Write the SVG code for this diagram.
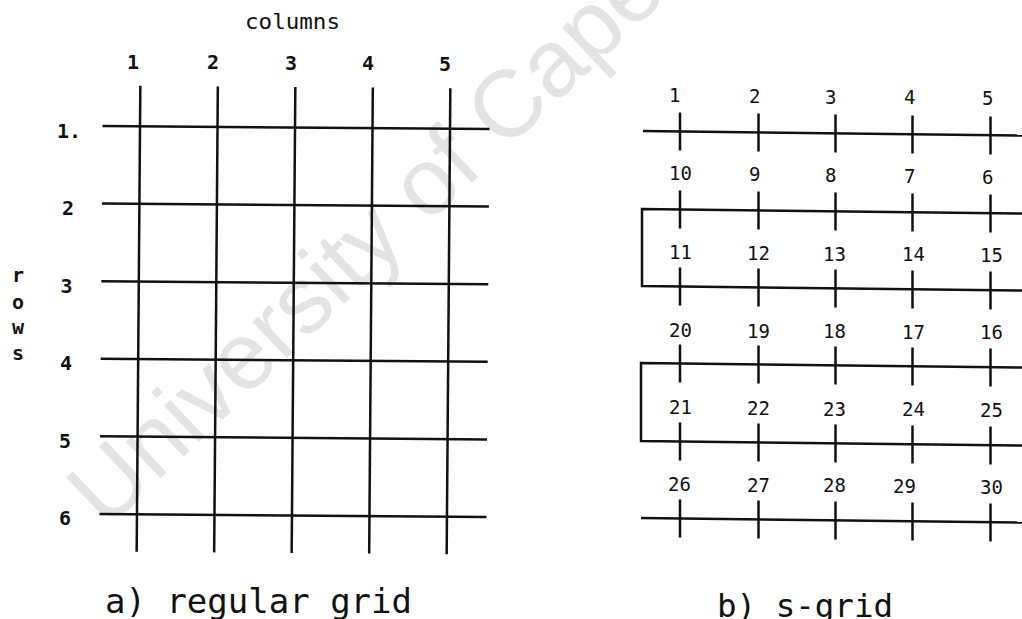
<svg xmlns="http://www.w3.org/2000/svg" width="1022" height="619" viewBox="0 0 1022 619">
<style>
.ln{stroke:#111;stroke-width:2.5;fill:none;stroke-linecap:butt}
.lbl{font-family:"DejaVu Sans Mono","Liberation Mono",monospace;fill:#111}
.d20{font-size:20px;font-weight:bold}
.d19{font-size:19px}
.mid{text-anchor:middle}
.wm{font-family:"Liberation Sans",Arial,sans-serif;font-size:95px;fill:#e3e3e3}
</style>
<rect width="1022" height="619" fill="#fff"/>
<text class="wm" x="106" y="530" transform="rotate(-43.5 106 530)">University of Cape Town</text>

<g id="grid-a">
  <g id="grid-a-lines" class="ln" transform="rotate(0.45 295 320)">
    <line x1="101" y1="127.5" x2="488" y2="127.5"/>
    <line x1="101" y1="205.1" x2="488" y2="205.1"/>
    <line x1="101" y1="282.7" x2="488" y2="282.7"/>
    <line x1="101" y1="360.3" x2="488" y2="360.3"/>
    <line x1="101" y1="437.9" x2="488" y2="437.9"/>
    <line x1="101" y1="515.5" x2="488" y2="515.5"/>
    <line x1="138.5" y1="87" x2="138.5" y2="553"/>
    <line x1="216" y1="87" x2="216" y2="553"/>
    <line x1="293.5" y1="87" x2="293.5" y2="553"/>
    <line x1="371" y1="87" x2="371" y2="553"/>
    <line x1="448.5" y1="87" x2="448.5" y2="553"/>
  </g>
  <text id="label-columns" class="lbl" x="245" y="28.5" font-size="22" textLength="95" lengthAdjust="spacingAndGlyphs">columns</text>
  <g id="col-labels" class="lbl d20 mid">
    <text x="133" y="69">1</text>
    <text x="213" y="69">2</text>
    <text x="291" y="70">3</text>
    <text x="368" y="70">4</text>
    <text x="445" y="71">5</text>
  </g>
  <g id="row-labels" class="lbl d20">
    <text x="57" y="138">1.</text>
    <text x="68" y="215" class="mid">2</text>
    <text x="66.5" y="293" class="mid">3</text>
    <text x="66" y="370" class="mid">4</text>
    <text x="65" y="448" class="mid">5</text>
    <text x="65" y="525" class="mid">6</text>
  </g>
  <g id="label-rows" class="lbl mid" font-size="20" font-weight="bold">
    <text x="18" y="282">r</text>
    <text x="18" y="309">o</text>
    <text x="18" y="334">w</text>
    <text x="18" y="360">s</text>
  </g>
  <text id="caption-a" class="lbl" x="105" y="613" font-size="34" textLength="307" lengthAdjust="spacingAndGlyphs">a) regular grid</text>
</g>

<g id="grid-b">
  <g id="grid-b-lines" class="ln">
    <line x1="643" y1="131" x2="1022" y2="135.5"/>
    <polyline points="1022,213.5 642,209 642,286 1022,290.5"/>
    <polyline points="1022,367.5 641,363 641,441 1022,445.5"/>
    <line x1="641" y1="518" x2="1022" y2="522.5"/>
  </g>
  <g id="grid-b-ticks" class="ln">
    <path d="M680,112.5V150.5 M758.5,113.5V151.5 M835.5,114.5V152.5 M912.5,115.5V153.5 M990.5,116.5V154.5"/>
    <path d="M680,190.5V228.5 M758.5,191.5V229.5 M835.5,192.5V230.5 M912.5,193.5V231.5 M990.5,194.5V232.5"/>
    <path d="M680,267.5V305.5 M758.5,268.5V306.5 M835.5,269.5V307.5 M912.5,270.5V308.5 M990.5,271.5V309.5"/>
    <path d="M680,344.5V382.5 M758.5,345.5V383.5 M835.5,346.5V384.5 M912.5,347.5V385.5 M990.5,348.5V386.5"/>
    <path d="M680,422.5V460.5 M758.5,423.5V461.5 M835.5,424.5V462.5 M912.5,425.5V463.5 M990.5,426.5V464.5"/>
    <path d="M680,499.5V537.5 M758.5,500.5V538.5 M835.5,501.5V539.5 M912.5,502.5V540.5 M990.5,503.5V541.5"/>
  </g>
  <g id="grid-b-labels" class="lbl d19">
    <text x="669" y="102">1</text><text x="749" y="103">2</text><text x="825" y="103.5">3</text><text x="904" y="104">4</text><text x="982" y="105">5</text>
    <text x="669" y="180">10</text><text x="749" y="181">9</text><text x="825" y="182">8</text><text x="904" y="183">7</text><text x="982" y="184">6</text>
    <text x="669" y="259">11</text><text x="747" y="260">12</text><text x="823" y="260.5">13</text><text x="902" y="261">14</text><text x="980" y="262">15</text>
    <text x="669" y="337">20</text><text x="747" y="337.5">19</text><text x="823" y="338">18</text><text x="902" y="338.5">17</text><text x="980" y="339">16</text>
    <text x="669" y="414">21</text><text x="747" y="415">22</text><text x="823" y="415.5">23</text><text x="902" y="416">24</text><text x="980" y="417">25</text>
    <text x="668" y="491">26</text><text x="747" y="491.5">27</text><text x="823" y="492">28</text><text x="893" y="492.5">29</text><text x="980" y="494">30</text>
  </g>
  <text id="caption-b" class="lbl" x="717" y="617" font-size="32" textLength="176" lengthAdjust="spacingAndGlyphs">b) s-grid</text>
</g>
</svg>
